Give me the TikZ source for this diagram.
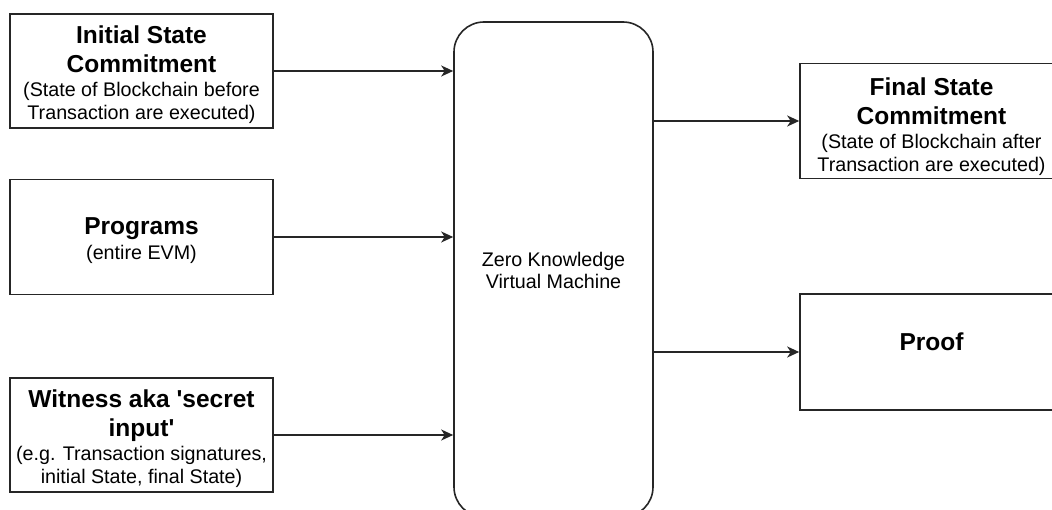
\documentclass[tikz,border=0pt]{standalone}
\usepackage{fontspec}
\setmainfont{Liberation Sans}
\usetikzlibrary{arrows.meta}
\newcommand\boxtitle{\fontsize{24.5}{29}\selectfont\bfseries}
\newcommand\boxnote{\fontsize{19.7}{23}\selectfont\mdseries}
% struts that fix the top and bottom of a label block
\newcommand\hitop[1][25pt]{\rule{0pt}{#1}}
\newcommand\lobot{\rule[-4.5pt]{0pt}{4.5pt}}
\newcommand\gap{\par\vskip1pt}
\begin{document}
\begin{tikzpicture}[x=1pt,y=-1pt,
  box/.style={draw=black!85, line width=1.6pt, minimum width=263pt, minimum height=114pt,
    inner sep=0pt, text width=262pt, align=flush center, font=\boxnote, text=black},
  vm/.style={draw=black!85, line width=1.6pt, rounded corners=30pt, minimum width=199pt,
    minimum height=495pt, inner sep=0pt, text width=195pt, align=flush center, font=\boxnote, text=black},
  link/.style={draw=black!85, line width=1.5pt, -{Stealth[length=12pt,width=11pt,inset=3.5pt]}}]
\useasboundingbox (0,0) rectangle (1052,510);
\fill[white] (0,0) rectangle (1052,510);
\clip (0,0) rectangle (1052,510);

% inputs
\node[box] (init) at (141.5,71)
  {\boxtitle\hitop Initial State\\Commitment\gap\boxnote (State of Blockchain before\\Transaction are executed)\lobot\par};
\node[box, minimum height=115pt] (prog) at (141.5,237)
  {\boxtitle\hitop Programs\par\vskip2pt\boxnote (entire EVM)\lobot\par};
\node[box] (wit) at (141.5,435)
  {\boxtitle\hitop Witness aka \textquotesingle secret\\input\textquotesingle\gap\boxnote (e.g. Transaction signatures,\\initial State, final State)\lobot\par};

% the machine
\node[vm] (zk) at (553.5,269.5)
  {\fontsize{19.7}{22}\selectfont\hitop[20pt]Zero Knowledge\\Virtual Machine\rule[-4pt]{0pt}{4pt}\par};

% outputs
\node[box, minimum height=115pt] (final) at (931.5,121)
  {\boxtitle\hitop[30pt]Final State\\Commitment\gap\boxnote (State of Blockchain after\\Transaction are executed)\lobot\par};
\node[box, minimum height=116pt, label={[text=black, yshift=10pt]center:\boxtitle Proof}] (proof) at (931.5,352) {};

% connectors
\draw[link] (init.east) -- (init.east -| zk.west);
\draw[link] (prog.east) -- (prog.east -| zk.west);
\draw[link] (wit.east) -- (wit.east -| zk.west);
\draw[link] (final.west -| zk.east) -- (final.west);
\draw[link] (proof.west -| zk.east) -- (proof.west);
\end{tikzpicture}
\end{document}
